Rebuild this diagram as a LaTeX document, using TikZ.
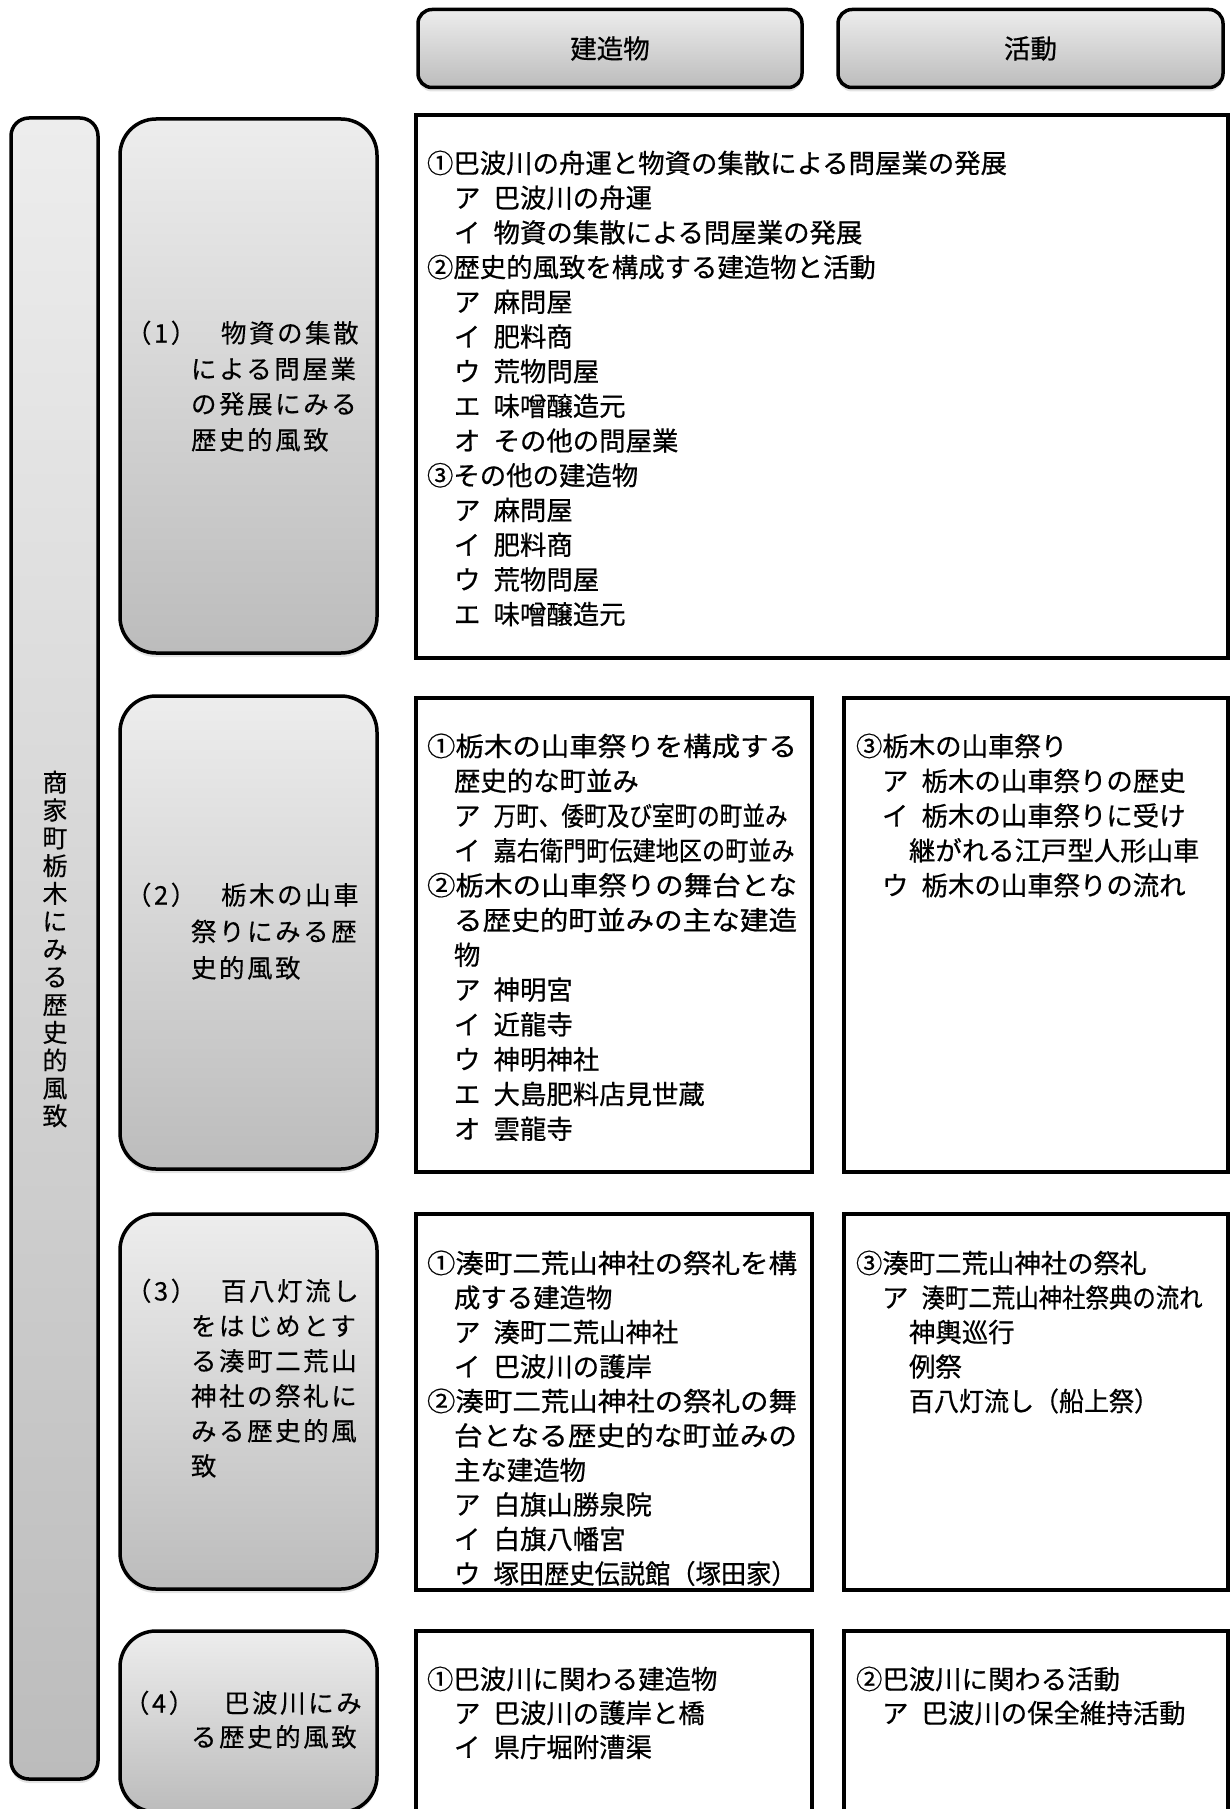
\documentclass[tikz,border=0pt]{standalone}
\usepackage{fontspec}
\setmainfont{Noto Sans CJK JP}
\newfontfamily\cfont[FakeBold=0.6]{Noto Sans CJK JP}
\newfontfamily\lfontfam[LetterSpace=10,FakeBold=0.3]{Noto Sans CJK JP}
\usetikzlibrary{shadows}
\definecolor{gtop}{RGB}{237,237,237}
\definecolor{gbot}{RGB}{188,188,188}
\newcommand\cf{\cfont\fontsize{26.4pt}{34.7pt}\selectfont}
\newcommand\lf{\lfontfam\fontsize{25.5pt}{35pt}\selectfont}
\newcommand\hf{\cfont\fontsize{26.5pt}{30pt}\selectfont}
\newcommand\vf{\lfontfam\fontsize{25pt}{27.8pt}\selectfont}
\newcounter{tc}
\tikzset{
  gbox/.style={draw=black, line width=3.5pt, top color=gtop, bottom color=gbot,
    drop shadow={opacity=0.22, shadow xshift=0pt, shadow yshift=-4pt}, inner sep=0pt},
  hdr/.style={gbox, rounded corners=14pt, minimum width=384pt, minimum height=78pt, font=\hf},
  rbox/.style={gbox, rounded corners=36pt, minimum width=257pt},
  cbox/.style={draw=black, line width=4pt, fill=white, inner sep=0pt},
  txt/.style={anchor=base west, inner sep=0pt, outer sep=0pt, font=\cf},
  ltxt/.style={anchor=base west, inner sep=0pt, outer sep=0pt, font=\lf}
}
\newcommand\tL[3]{\stepcounter{tc}\node[txt] (t\arabic{tc}) at (#1,#2+10) {#3};}
\newcommand\tW[4]{\stepcounter{tc}\node[txt] (t\arabic{tc}) at (#1,#2+10) {\resizebox{#3pt}{\height}{#4}};}
\newcommand\tS[4]{\stepcounter{tc}\node[txt] (t\arabic{tc}) at (#1,#2+10) {#3\hspace{13.2pt}#4};}
\newcommand\tSW[5]{\stepcounter{tc}\node[txt] (t\arabic{tc}) at (#1,#2+10) {#3\hspace{13.2pt}\resizebox{#4pt}{\height}{#5}};}
\newcommand\tLf[3]{\stepcounter{tc}\node[ltxt] (t\arabic{tc}) at (#1,#2+9.5) {#3};}
\begin{document}
\begin{tikzpicture}[x=1pt,y=-1pt]
\useasboundingbox (0,0) rectangle (1230,1809);
\clip (0,0) rectangle (1230,1809);
% headers
\node[hdr] (h1) at (610,48.5) {建造物};
\node[hdr, minimum width=385pt] (h2) at (1030.5,48.5) {活動};
% left bar
\node[gbox, rounded corners=18pt, minimum width=87pt, minimum height=1661pt] (bar) at (54.5,948.5) {};
\node[font=\vf, align=center, inner sep=0pt] (vt) at (55,949) {商\\家\\町\\栃\\木\\に\\み\\る\\歴\\史\\的\\風\\致};
% row boxes
\node[rbox, minimum height=534pt] (r1) at (248.5,386) {};
\node[rbox, minimum height=473pt] (r2) at (248.5,932.5) {};
\node[rbox, minimum height=375pt] (r3) at (248.5,1401.5) {};
\node[rbox, minimum height=181pt] (r4) at (248.5,1721.5) {};
% content boxes
\node[cbox, minimum width=812pt, minimum height=543pt] (c1) at (822,386.5) {};
\node[cbox, minimum width=396pt, minimum height=474pt] (c2l) at (614,935) {};
\node[cbox, minimum width=384pt, minimum height=474pt] (c2r) at (1036,935) {};
\node[cbox, minimum width=396pt, minimum height=376pt] (c3l) at (614,1402) {};
\node[cbox, minimum width=384pt, minimum height=376pt] (c3r) at (1036,1402) {};
\node[cbox, minimum width=396pt, minimum height=200pt] (c4l) at (614,1731) {};
\node[cbox, minimum width=384pt, minimum height=200pt] (c4r) at (1036,1731) {};
% left column texts
\tLf{126}{333}{（1）}\tLf{221}{333}{物資の集散}
\tLf{191}{369}{による問屋業}
\tLf{191}{404}{の発展にみる}
\tLf{191}{440}{歴史的風致}
\tLf{126}{895}{（2）}\tLf{221}{895}{栃木の山車}
\tLf{191}{931.5}{祭りにみる歴}
\tLf{191}{968}{史的風致}
\tLf{126}{1291}{（3）}\tLf{221}{1291}{百八灯流し}
\tLf{191}{1326}{をはじめとす}
\tLf{191}{1361}{る湊町二荒山}
\tLf{191}{1396}{神社の祭礼に}
\tLf{191}{1431}{みる歴史的風}
\tLf{191}{1466}{致}
\tLf{124}{1703}{（4）}\tLf{224}{1703}{巴波川にみ}
\tLf{191}{1737}{る歴史的風致}
% row 1 content
\tL{427}{163}{①巴波川の舟運と物資の集散による問屋業の発展}
\tS{454}{197.7}{ア}{巴波川の舟運}
\tS{454}{232.4}{イ}{物資の集散による問屋業の発展}
\tL{427}{267.1}{②歴史的風致を構成する建造物と活動}
\tS{454}{301.8}{ア}{麻問屋}
\tS{454}{336.5}{イ}{肥料商}
\tS{454}{371.2}{ウ}{荒物問屋}
\tS{454}{405.9}{エ}{味噌醸造元}
\tS{454}{440.6}{オ}{その他の問屋業}
\tL{427}{475.3}{③その他の建造物}
\tS{454}{510}{ア}{麻問屋}
\tS{454}{544.7}{イ}{肥料商}
\tS{454}{579.4}{ウ}{荒物問屋}
\tS{454}{614.1}{エ}{味噌醸造元}
% row 2 left
\tW{427}{746}{370}{①栃木の山車祭りを構成する}
\tL{454}{780.8}{歴史的な町並み}
\tSW{454}{815.6}{ア}{294}{万町、倭町及び室町の町並み}
\tSW{454}{850.4}{イ}{301}{嘉右衛門町伝建地区の町並み}
\tW{427}{885.2}{370}{②栃木の山車祭りの舞台とな}
\tW{454}{920}{343}{る歴史的町並みの主な建造}
\tL{454}{954.8}{物}
\tS{454}{989.6}{ア}{神明宮}
\tS{454}{1024.4}{イ}{近龍寺}
\tS{454}{1059.2}{ウ}{神明神社}
\tS{454}{1094}{エ}{大島肥料店見世蔵}
\tS{454}{1128.8}{オ}{雲龍寺}
% row 2 right
\tL{856}{746}{③栃木の山車祭り}
\tS{882}{780.8}{ア}{栃木の山車祭りの歴史}
\tS{882}{815.6}{イ}{栃木の山車祭りに受け}
\tL{909}{850.4}{継がれる江戸型人形山車}
\tS{882}{885.2}{ウ}{栃木の山車祭りの流れ}
% row 3 left
\tW{427}{1263}{370}{①湊町二荒山神社の祭礼を構}
\tL{454}{1297.5}{成する建造物}
\tS{454}{1332}{ア}{湊町二荒山神社}
\tS{454}{1366.5}{イ}{巴波川の護岸}
\tW{427}{1401}{370}{②湊町二荒山神社の祭礼の舞}
\tW{454}{1435.5}{343}{台となる歴史的な町並みの}
\tL{454}{1470}{主な建造物}
\tS{454}{1504.5}{ア}{白旗山勝泉院}
\tS{454}{1539}{イ}{白旗八幡宮}
\tSW{454}{1573.5}{ウ}{303}{塚田歴史伝説館（塚田家）}
% row 3 right
\tL{856}{1263}{③湊町二荒山神社の祭礼}
\tSW{882}{1297.5}{ア}{281}{湊町二荒山神社祭典の流れ}
\tL{909}{1332}{神輿巡行}
\tL{909}{1366.5}{例祭}
\tW{909}{1401}{250}{百八灯流し（船上祭）}
% row 4
\tL{427}{1679}{①巴波川に関わる建造物}
\tS{454}{1713}{ア}{巴波川の護岸と橋}
\tS{454}{1747}{イ}{県庁堀附漕渠}
\tL{856}{1679}{②巴波川に関わる活動}
\tS{882}{1713}{ア}{巴波川の保全維持活動}
\end{tikzpicture}
\end{document}
